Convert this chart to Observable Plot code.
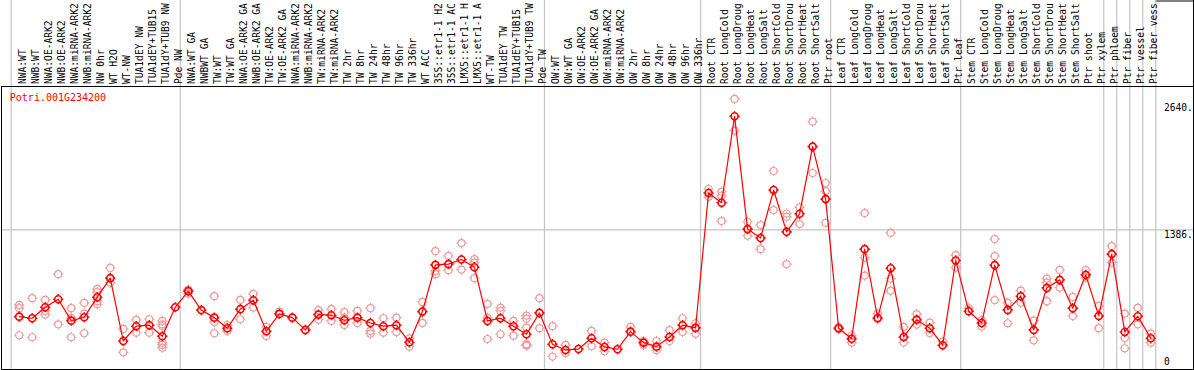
<!DOCTYPE html>
<html>
<head>
<meta charset="utf-8">
<script src="https://cdn.jsdelivr.net/npm/d3@7"></script>
<script src="https://cdn.jsdelivr.net/npm/@observablehq/plot@0.6"></script>
<style>
html, body { margin: 0; padding: 0; background: #fff; }
#chart svg { display: block; }
</style>
</head>
<body>
<div id="chart"></div>
<script>
// ---------- data ----------
const geneId = "Potri.001G234200";

const labels = [
  "NWA:WT", "NWB:WT", "NWA:OE-ARK2", "NWB:OE-ARK2", "NWA:miRNA-ARK2", "NWB:miRNA-ARK2",
  "NW 0hr", "WT H2O", "WT-NW", "TUA1dEY NW", "TUA1dEY+TUB15", "TUA1dY+TUB9 NW", "Pde NW",
  "NWA:WT GA", "NWBWT GA", "TW:WT", "TW:WT GA", "NWA:OE-ARK2 GA", "NWB:OE-ARK2 GA",
  "TW:OE-ARK2", "TW:OE-ARK2 GA", "NWA:miRNA-ARK2", "NWB:miRNA-ARK2", "TW:miRNA-ARK2",
  "TW:miRNA-ARK2", "TW 2hr", "TW 8hr", "TW 24hr", "TW 48hr", "TW 96hr", "TW 336hr",
  "WT ACC", "35S::etr1-1 H2", "35S::etr1-1 AC", "LMX5::etr1-1 H", "LMX5::etr1-1 A",
  "WT-TW", "TUA1dEY TW", "TUA1dEY+TUB15", "TUA1dY+TUB9 TW", "Pde TW",
  "OW:WT", "OW:WT GA", "OW:OE-ARK2", "OW:OE-ARK2 GA", "OW:miRNA-ARK2", "OW:miRNA-ARK2",
  "OW 2hr", "OW 8hr", "OW 24hr", "OW 48hr", "OW 96hr", "OW 336hr",
  "Root CTR", "Root LongCold", "Root LongDroug", "Root LongHeat", "Root LongSalt",
  "Root ShortCold", "Root ShortDrou", "Root ShortHeat", "Root ShortSalt", "Ptr root",
  "Leaf CTR", "Leaf LongCold", "Leaf LongDroug", "Leaf LongHeat", "Leaf LongSalt",
  "Leaf ShortCold", "Leaf ShortDrou", "Leaf ShortHeat", "Leaf ShortSalt", "Ptr leaf",
  "Stem CTR", "Stem LongCold", "Stem LongDroug", "Stem LongHeat", "Stem LongSalt",
  "Stem ShortCold", "Stem ShortDrou", "Stem ShortHeat", "Stem ShortSalt", "Ptr shoot",
  "Ptr xylem", "Ptr phloem", "Ptr fiber", "Ptr vessel", "Ptr fiber vess"
];

const means = [
  525, 509, 618, 698, 485, 519, 718, 907, 283, 430, 440, 330, 618,
  778, 590, 515, 410, 599, 688, 380, 552, 515, 393, 545, 539, 489, 515, 462, 430, 440, 270,
  575, 1039, 1046, 1092, 1016, 482, 509, 430, 350, 562,
  251, 194, 203, 310, 224, 201, 376, 267, 227, 323, 440, 413,
  1752, 1656, 2514, 1394, 1305, 1782, 1367, 1546, 2213, 1692,
  410, 306, 1195, 512, 1006, 323, 495, 410, 241, 1083,
  579, 462, 1036, 592, 728, 393, 810, 890, 609, 940, 532,
  1146, 373, 529, 310
];

const replicates = [
  [641, 609, 340], [708, 320], [691, 582, 545], [947, 449], [609, 512, 320], [661, 555, 360],
  [800, 768, 678, 648], [1009, 863], [403, 171], [492, 366], [499, 366],
  [482, 449, 432, 266, 244, 217], [],
  [794, 754], [], [728, 472, 360], [440, 383], [691, 499], [751, 615], [423, 333], [575],
  [], [], [589, 495], [599, 482], [569, 515, 443], [582, 462], [609, 383, 356], [509, 366],
  [515, 373], [310, 227], [671, 462], [1175, 979, 947], [1129, 986], [1255, 992],
  [1096, 1062, 907], [651, 515, 303], [615, 582, 350], [482, 336],
  [535, 505, 416, 250, 244, 238], [708, 410],
  [430, 129], [244, 164], [], [383, 231], [267, 181], [], [423], [283, 241], [283, 191],
  [390, 283], [509, 373], [459, 356],
  [1792, 1715], [1765, 1725, 1474], [2687, 2372], [1467, 1328], [1434, 1195], [1971, 1583],
  [1549, 1516, 1046], [1609, 1444], [2461, 1951], [1852, 1772, 1457],
  [420, 400], [340, 267], [1553, 1112, 933], [555, 499], [1357, 903, 781], [423, 267],
  [549, 446], [466, 363], [276], [1136, 1012],
  [609], [489, 426], [1295, 1126, 688], [661, 459], [784, 664], [485, 290], [903, 863, 678],
  [989, 813], [721, 532], [986, 913], [631, 410],
  [1225, 1062], [555, 313, 211], [612, 449], [356, 267]
];

const groupBreaks = [0, 13, 41, 53, 63, 73, 84, 85, 86, 87, 88];
const yTickValues = [2640, 1386];
const yTickLabels = ["2640.", "1386."];
const yZeroLabel = ["0"];
const yMax = 2810;

// ---------- tables ----------
const meanRows = means.map((v, i) => ({i, v}));
const repRows = replicates.flatMap((arr, i) => arr.map(v => ({i, v})));

// ring marker with four small ticks
const ringTicks = {
  draw(ctx, size) {
    const r = Math.sqrt(size / Math.PI);
    const t = 1.6;
    ctx.moveTo(r, 0);
    ctx.arc(0, 0, r, 0, 2 * Math.PI);
    ctx.moveTo(0, -r); ctx.lineTo(0, -r - t);
    ctx.moveTo(0, r); ctx.lineTo(0, r + t);
    ctx.moveTo(-r, 0); ctx.lineTo(-r - t, 0);
    ctx.moveTo(r, 0); ctx.lineTo(r + t, 0);
  }
};

const xc = d => d.i + 0.5;
const grid = "#c4c4c4";
const mono = "'DejaVu Sans Mono', 'Liberation Mono', monospace";

const chart = Plot.plot({
  width: 1194,
  height: 370,
  marginTop: 86,
  marginBottom: 1,
  marginLeft: 1,
  marginRight: 1,
  style: {fontFamily: mono, fontSize: "9.6px", background: "white"},
  x: {type: "linear", domain: [0, labels.length], range: [12.2, 1156.8], axis: null},
  y: {domain: [0, yMax], axis: null},
  marks: [
    Plot.ruleY([yTickValues[1]], {stroke: grid, strokeWidth: 1.2}),
    // right label box (top + right edges, extended into header)
    Plot.ruleY([yMax], {x1: () => labels.length, x2: () => labels.length, dx: -1.5, insetRight: -38, dy: -85.5, stroke: "black"}),
    Plot.ruleX([labels.length], {x: d => d, dx: 36.2, insetTop: -86, stroke: "black"}),
    Plot.ruleX(groupBreaks, {x: d => d, dx: -1.5, insetTop: -86, stroke: grid, strokeWidth: 1.2}),
    Plot.frame({stroke: "black"}),
    // header labels
    Plot.text(labels, {x: (d, i) => i + 0.5, text: d => d, frameAnchor: "top", rotate: -90,
      textAnchor: "start", dy: -2.5, dx: -0.5, fill: "black"}),
    // gene id
    Plot.text([geneId], {text: d => d, frameAnchor: "top-left", textAnchor: "start", lineAnchor: "top",
      dx: 8.3, dy: 7, fill: "red", fontSize: 10}),
    // y labels
    Plot.text(yTickValues, {y: d => d, text: (d, i) => yTickLabels[i], frameAnchor: "right",
      textAnchor: "start", lineAnchor: "top", dx: -29.5, dy: 1, fill: "black"}),
    Plot.text([0], {y: d => d, text: (d, i) => yZeroLabel[i], frameAnchor: "right",
      textAnchor: "start", lineAnchor: "bottom", dx: -29.5, dy: -4.5, fill: "black"}),
    // data
    Plot.dot(repRows, {x: xc, y: "v", r: 3.5, symbol: ringTicks, stroke: "#ec9c9c", strokeWidth: 1.2, fill: "none"}),
    Plot.line(meanRows, {x: xc, y: "v", stroke: "#ff0000", strokeWidth: 1.2}),
    Plot.dot(meanRows, {x: xc, y: "v", r: 3.5, symbol: ringTicks, stroke: "#ff0000", strokeWidth: 1.6, fill: "none"})
  ]
});

document.getElementById("chart").appendChild(chart);
</script>
</body>
</html>
